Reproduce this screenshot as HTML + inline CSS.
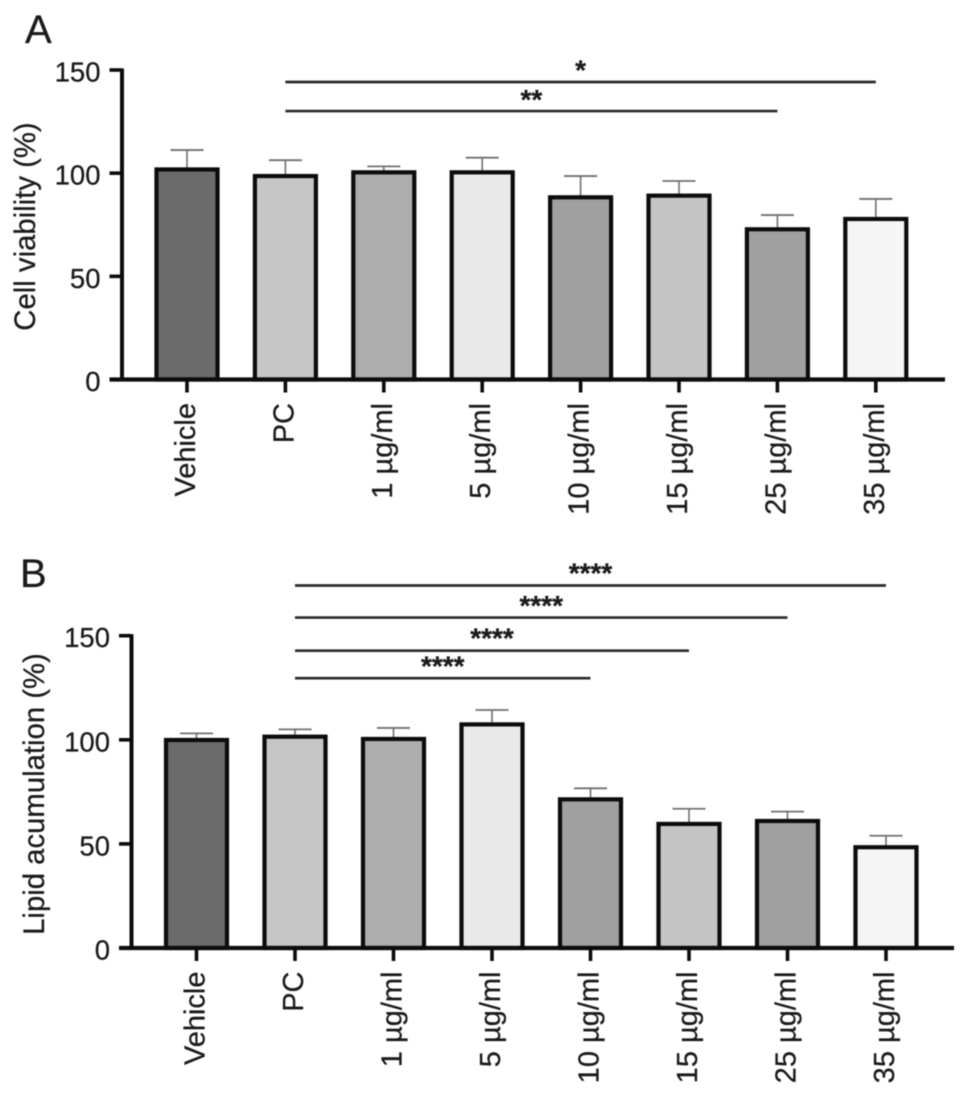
<!DOCTYPE html>
<html lang="en">
<head>
<meta charset="utf-8">
<title>Cell viability and lipid accumulation</title>
<style>
html,body{margin:0;padding:0;background:#fff;}
body{width:969px;height:1097px;overflow:hidden;}
svg{display:block;filter:blur(0.6px);}
text{font-family:"Liberation Sans",sans-serif;fill:#1a1a1a;stroke:#1a1a1a;stroke-width:0.25px;}
</style>
</head>
<body>
<svg id="figure" xmlns="http://www.w3.org/2000/svg" width="969" height="1097" viewBox="0 0 969 1097">
  <g id="panel-a">
    <text x="25" y="43" font-size="40">A</text>
    <text transform="translate(35 226.5) rotate(-90)" text-anchor="middle" font-size="29.3">Cell viability (%)</text>
  </g>
  <g id="panel-b">
    <text x="20" y="587" font-size="40">B</text>
    <text transform="translate(44 794) rotate(-90)" text-anchor="middle" font-size="29.3">Lipid acumulation (%)</text>
  </g>
</svg>
<script>
// Shared data
const categories = ["Vehicle", "PC", "1 µg/ml", "5 µg/ml", "10 µg/ml", "15 µg/ml", "25 µg/ml", "35 µg/ml"];
const yTicks = [0, 50, 100, 150];
const barFills = ["#6b6b6b", "#c6c6c6", "#adadad", "#e9e9e9", "#a0a0a0", "#c4c4c4", "#a0a0a0", "#f5f5f5"];

// Panel A data
const viabilityMeans = [101.8, 98.6, 100.4, 100.4, 88.3, 89.1, 72.8, 77.8];
const viabilityErrorTops = [111.2, 106.3, 103.3, 107.5, 98.6, 96.2, 79.7, 87.5];
const viabilityBracketEnds = [7, 6];
const viabilityBracketLevels = [144.2, 130.1];
const viabilityBracketStars = ["*", "**"];

// Panel B data
const lipidMeans = [99.9, 101.5, 100.4, 107.4, 71.4, 59.6, 61, 48.4];
const lipidErrorTops = [103.1, 105, 105.7, 114.3, 76.7, 66.9, 65.5, 53.9];
const lipidBracketEnds = [7, 6, 5, 4];
const lipidBracketLevels = [174.1, 158.7, 142.8, 129.6];
const lipidBracketStars = ["****", "****", "****", "****"];

const SVG_NS = "http://www.w3.org/2000/svg";

function make(parent, tag) {
  const el = document.createElementNS(SVG_NS, tag);
  parent.appendChild(el);
  return el;
}

function line(el, x1, y1, x2, y2, stroke, width) {
  el.setAttribute("x1", x1);
  el.setAttribute("y1", y1);
  el.setAttribute("x2", x2);
  el.setAttribute("y2", y2);
  el.setAttribute("stroke", stroke);
  el.setAttribute("stroke-width", width);
}

function drawPanel(group, layout, means, errorTops, bracketEnds, bracketLevels, bracketStars) {
  const yScale = v => layout.y0 - v * (layout.y0 - layout.y150) / 150;
  const xScale = i => layout.firstX + i * layout.stepX;
  const id = layout.id;

  // Error bars (behind bars)
  means.forEach((mean, i) => {
    const stem = make(group, "line");
    
    
    line(stem, xScale(i), yScale(mean), xScale(i), yScale(errorTops[i]), "#707070", 1.6);
    const cap = make(group, "line");
    
    
    line(cap, xScale(i) - 16.5, yScale(errorTops[i]), xScale(i) + 16.5, yScale(errorTops[i]), "#707070", 1.8);
  });

  // Bars
  means.forEach((mean, i) => {
    const bar = make(group, "rect");
    
    
    bar.setAttribute("x", xScale(i) - 30.5);
    bar.setAttribute("y", yScale(mean));
    bar.setAttribute("width", 61);
    bar.setAttribute("height", yScale(0) - yScale(mean));
    bar.setAttribute("fill", barFills[i]);
    bar.setAttribute("stroke", "#0c0c0c");
    bar.setAttribute("stroke-width", 4.2);
  });

  // Y axis
  const yAxis = make(group, "line");
  
  
  line(yAxis, layout.axisX, yScale(150) - 1.5, layout.axisX, yScale(0) + 2, "#0c0c0c", 4);

  yTicks.forEach(t => {
    const tick = make(group, "line");
    
    
    line(tick, layout.axisX - 12.5, yScale(t), layout.axisX, yScale(t), "#0c0c0c", 3.6);
    const label = make(group, "text");
    
    
    label.setAttribute("x", layout.axisX - 21.5);
    label.setAttribute("y", yScale(t) + 11.5);
    label.setAttribute("text-anchor", "end");
    label.setAttribute("font-size", 27.5);
    label.textContent = t;
  });

  // X axis
  const xAxis = make(group, "line");
  
  
  line(xAxis, layout.axisX - 12.5, yScale(0), layout.axisEnd, yScale(0), "#0c0c0c", 4.2);

  categories.forEach((name, i) => {
    const tick = make(group, "line");
    
    
    line(tick, xScale(i), yScale(0), xScale(i), yScale(0) + 13, "#0c0c0c", 3.6);
    const label = make(group, "text");
    
    
    label.setAttribute("transform", "translate(" + (xScale(i) + 8) + " " + (yScale(0) + 23.5) + ") rotate(-90)");
    label.setAttribute("text-anchor", "end");
    label.setAttribute("font-size", 29);
    label.textContent = name;
  });

  // Significance brackets
  bracketEnds.forEach((end, i) => {
    const y = yScale(bracketLevels[i]);
    const bracket = make(group, "line");
    
    
    line(bracket, xScale(1), y, xScale(end), y, "#2a2a2a", 2.7);
    const stars = make(group, "text");
    
    
    stars.setAttribute("x", (xScale(1) + xScale(end)) / 2);
    stars.setAttribute("y", y - layout.starGap[i] + 13);
    stars.setAttribute("text-anchor", "middle");
    stars.setAttribute("font-size", 28);
    stars.setAttribute("font-weight", "bold");
    stars.textContent = bracketStars[i];
  });
}

drawPanel(document.getElementById("panel-a"),
  { id: "a", y0: 379.5, y150: 70, firstX: 187, stepX: 98.4, axisX: 122, axisEnd: 945, starGap: [15.5, 15] },
  viabilityMeans, viabilityErrorTops, viabilityBracketEnds, viabilityBracketLevels, viabilityBracketStars);

drawPanel(document.getElementById("panel-b"),
  { id: "b", y0: 948, y150: 635.7, firstX: 196.5, stepX: 98.5, axisX: 131.5, axisEnd: 954, starGap: [16, 15.5, 16, 15.5] },
  lipidMeans, lipidErrorTops, lipidBracketEnds, lipidBracketLevels, lipidBracketStars);
</script>
</body>
</html>
